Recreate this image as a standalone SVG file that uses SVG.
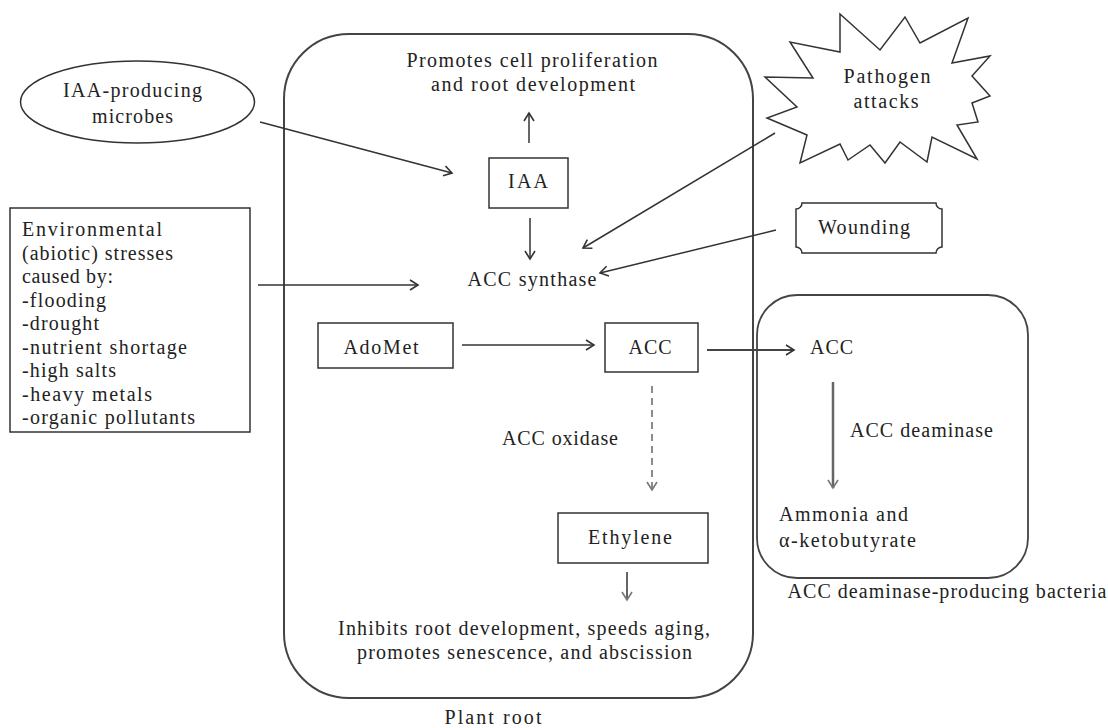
<svg xmlns="http://www.w3.org/2000/svg" width="1108" height="728" viewBox="0 0 1108 728">
<style>
text{font-family:"Liberation Serif","Times New Roman",serif;font-size:20px;fill:#222}
.c{text-anchor:middle}
.shape{fill:#fff;stroke:#333;stroke-width:1.5}
.conn{fill:none;stroke:#333;stroke-width:1.5}
</style>
<defs>
<marker id="ah" markerUnits="userSpaceOnUse" markerWidth="14" markerHeight="14" refX="11" refY="7" orient="auto">
<path d="M3,2 L11,7 L3,12" fill="none" stroke="#333" stroke-width="1.6"/>
</marker>
<marker id="ahg" markerUnits="userSpaceOnUse" markerWidth="14" markerHeight="14" refX="11" refY="7" orient="auto">
<path d="M3,2 L11,7 L3,12" fill="none" stroke="#777" stroke-width="1.6"/>
</marker>
</defs>
<rect width="1108" height="728" fill="#fff"/>

<g id="plant-root">
<rect x="284" y="34" width="469" height="664" rx="65" ry="65" fill="none" stroke="#444" stroke-width="2"/>
<text class="c" x="493" y="724" textLength="97" lengthAdjust="spacing">Plant root</text>
</g>

<g id="bacteria">
<rect x="757" y="295" width="271" height="283" rx="40" ry="40" fill="none" stroke="#444" stroke-width="1.8"/>
<text class="c" x="947" y="598" textLength="319" lengthAdjust="spacing">ACC deaminase-producing bacteria</text>
</g>

<g id="promotes">
<text class="c" x="532" y="67" textLength="251" lengthAdjust="spacing">Promotes cell proliferation</text>
<text class="c" x="533" y="91" textLength="204" lengthAdjust="spacing">and root development</text>
</g>

<g id="microbes">
<ellipse cx="137.5" cy="102" rx="117" ry="41" class="shape"/>
<text class="c" x="132.5" y="97" textLength="139" lengthAdjust="spacing">IAA-producing</text>
<text class="c" x="132.5" y="123" textLength="81" lengthAdjust="spacing">microbes</text>
</g>

<g id="iaa">
<rect x="489" y="158" width="79" height="50" class="shape"/>
<text class="c" x="528" y="188" textLength="40" lengthAdjust="spacing">IAA</text>
</g>

<g id="pathogen">
<polygon class="shape" points="840,14 880,50 905,17 920,43 968,18 952,63 990,56 972,76 990,96 972,103 978,122 957,125 977,159 932,137 927,162 900,142 885,163 870,145 848,160 840,144 800,163 807,135 767,118 797,107 765,77 813,78 790,42 840,52"/>
<text class="c" x="887" y="83" textLength="87" lengthAdjust="spacing">Pathogen</text>
<text class="c" x="886" y="108" textLength="65" lengthAdjust="spacing">attacks</text>
</g>

<g id="wounding">
<path class="shape" d="M802,203 H936 A6,6 0 0 0 942,209 V247 A6,6 0 0 0 936,253 H802 A6,6 0 0 0 796,247 V209 A6,6 0 0 0 802,203 Z"/>
<text class="c" x="864" y="234" textLength="92" lengthAdjust="spacing">Wounding</text>
</g>

<g id="environment">
<rect x="10" y="208" width="240" height="224" class="shape"/>
<text x="22" y="236" textLength="140" lengthAdjust="spacing">Environmental</text>
<text x="22" y="259.5" textLength="151" lengthAdjust="spacing">(abiotic) stresses</text>
<text x="22" y="283" textLength="91" lengthAdjust="spacing">caused by:</text>
<text x="22" y="306.5" textLength="84" lengthAdjust="spacing">-flooding</text>
<text x="22" y="330" textLength="77" lengthAdjust="spacing">-drought</text>
<text x="22" y="353.5" textLength="165" lengthAdjust="spacing">-nutrient shortage</text>
<text x="22" y="377" textLength="94" lengthAdjust="spacing">-high salts</text>
<text x="22" y="400.5" textLength="130" lengthAdjust="spacing">-heavy metals</text>
<text x="22" y="424" textLength="173" lengthAdjust="spacing">-organic pollutants</text>
</g>

<g id="acc-synthase">
<text class="c" x="532" y="286" textLength="129" lengthAdjust="spacing">ACC synthase</text>
</g>

<g id="adomet">
<rect x="318" y="323" width="135" height="45" class="shape"/>
<text class="c" x="381" y="354" textLength="75" lengthAdjust="spacing">AdoMet</text>
</g>

<g id="acc">
<rect x="605" y="323" width="93" height="49" class="shape"/>
<text class="c" x="650" y="354" textLength="43" lengthAdjust="spacing">ACC</text>
</g>

<g id="acc-bacteria">
<text x="810" y="354" textLength="43" lengthAdjust="spacing">ACC</text>
</g>

<g id="acc-oxidase-label">
<text x="502" y="445" textLength="116" lengthAdjust="spacing">ACC oxidase</text>
</g>

<g id="ethylene">
<rect x="558" y="513" width="150" height="50" class="shape"/>
<text class="c" x="630" y="544" textLength="84" lengthAdjust="spacing">Ethylene</text>
</g>

<g id="inhibits">
<text class="c" x="524" y="635" textLength="372" lengthAdjust="spacing">Inhibits root development, speeds aging,</text>
<text class="c" x="524.5" y="659" textLength="335" lengthAdjust="spacing">promotes senescence, and abscission</text>
</g>

<g id="deaminase-label">
<text x="850" y="437" textLength="143" lengthAdjust="spacing">ACC deaminase</text>
</g>

<g id="products">
<text x="779" y="521" textLength="129" lengthAdjust="spacing">Ammonia and</text>
<text x="779" y="547" textLength="137" lengthAdjust="spacing">α-ketobutyrate</text>
</g>

<g id="connectors">
<line class="conn" x1="529" y1="143" x2="529" y2="113" marker-end="url(#ah)"/>
<line class="conn" x1="530" y1="218" x2="530" y2="259" marker-end="url(#ah)"/>
<line class="conn" x1="260" y1="122" x2="452" y2="173" marker-end="url(#ah)"/>
<line class="conn" x1="258" y1="285" x2="418" y2="285" marker-end="url(#ah)"/>
<line class="conn" x1="775" y1="133" x2="583" y2="248" marker-end="url(#ah)"/>
<line class="conn" x1="776" y1="230" x2="600" y2="273" marker-end="url(#ah)"/>
<line class="conn" x1="462" y1="345" x2="594" y2="345" marker-end="url(#ah)"/>
<line x1="707" y1="350" x2="794" y2="350" fill="none" stroke="#444" stroke-width="2.2" marker-end="url(#ah)"/>
<line x1="652" y1="386" x2="652" y2="490" fill="none" stroke="#666" stroke-width="1.5" stroke-dasharray="7,5" marker-end="url(#ahg)"/>
<line x1="833" y1="382" x2="833" y2="488" fill="none" stroke="#666" stroke-width="2.5" marker-end="url(#ahg)"/>
<line x1="627" y1="572" x2="627" y2="600" fill="none" stroke="#555" stroke-width="1.8" marker-end="url(#ahg)"/>
</g>
</svg>
